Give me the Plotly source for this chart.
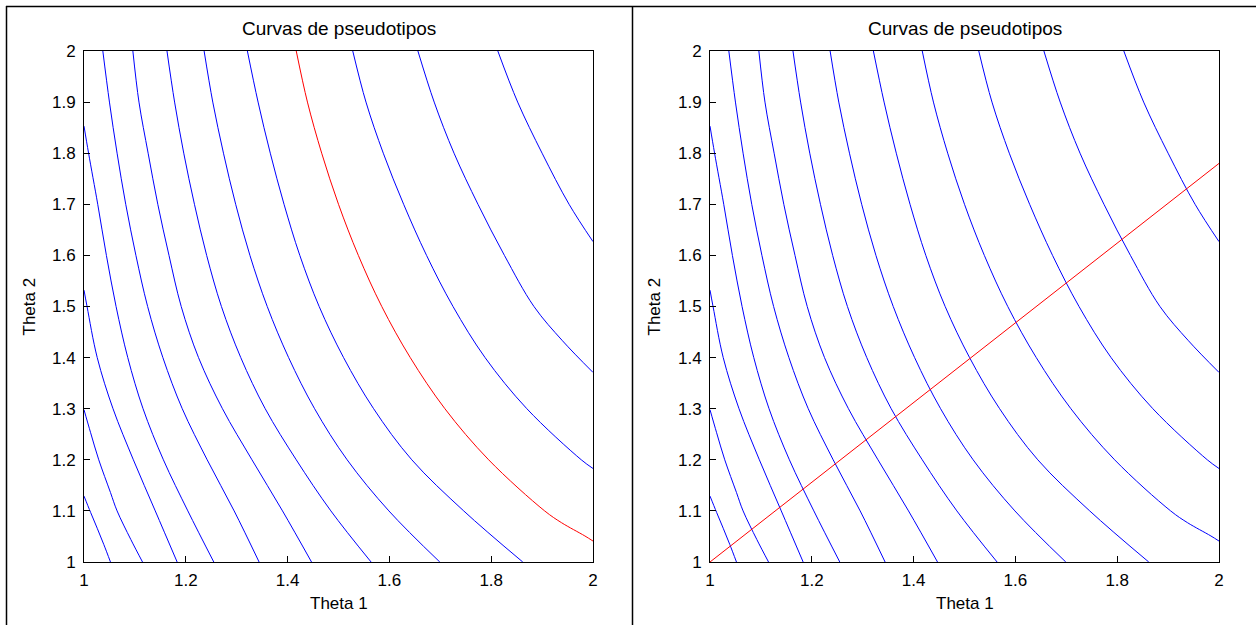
import plotly.graph_objects as go

# ---------------- data ----------------
title_text = "Curvas de pseudotipos"
x_label = "Theta 1"
y_label = "Theta 2"

x_tick_vals = [1.0, 1.2, 1.4, 1.6, 1.8, 2.0]
x_tick_text = ["1", "1.2", "1.4", "1.6", "1.8", "2"]
y_tick_vals = [1.0, 1.1, 1.2, 1.3, 1.4, 1.5, 1.6, 1.7, 1.8, 1.9, 2.0]
y_tick_text = ["1", "1.1", "1.2", "1.3", "1.4", "1.5", "1.6", "1.7", "1.8", "1.9", "2"]

# theta2 levels used for curves that run from the top edge down to the bottom edge
levels_full = [2.0, 1.9, 1.8, 1.7, 1.6, 1.5, 1.4, 1.3, 1.2, 1.1, 1.0]

c1_t1 = [1.000, 1.013, 1.026, 1.039, 1.052]
c1_t2 = [1.129, 1.097, 1.066, 1.034, 1.000]

c2_t1 = [1.000, 1.013, 1.029, 1.052, 1.065, 1.092, 1.115]
c2_t2 = [1.298, 1.253, 1.200, 1.136, 1.100, 1.044, 1.000]

c3_t1 = [1.000, 1.006, 1.026, 1.057, 1.097, 1.140, 1.183]
c3_t2 = [1.532, 1.500, 1.400, 1.300, 1.200, 1.100, 1.000]

c4_t1 = [1.000, 1.009, 1.027, 1.044, 1.063, 1.086, 1.116, 1.156, 1.204, 1.255]
c4_t2 = [1.853, 1.800, 1.700, 1.600, 1.500, 1.400, 1.300, 1.200, 1.100, 1.000]

c5_t1 = [1.037, 1.050, 1.065, 1.082, 1.102, 1.125, 1.155, 1.193, 1.242, 1.295, 1.344]
c5_t2 = levels_full

c6_t1 = [1.096, 1.108, 1.126, 1.145, 1.167, 1.191, 1.225, 1.272, 1.330, 1.390, 1.447]
c6_t2 = levels_full

c7_t1 = [1.163, 1.178, 1.196, 1.217, 1.241, 1.270, 1.308, 1.356, 1.417, 1.485, 1.564]
c7_t2 = levels_full

c8_t1 = [1.236, 1.253, 1.274, 1.298, 1.326, 1.360, 1.402, 1.453, 1.517, 1.599, 1.699]
c8_t2 = levels_full

c9_t1 = [1.321, 1.342, 1.366, 1.393, 1.424, 1.462, 1.510, 1.569, 1.644, 1.746, 1.862]
c9_t2 = levels_full

c10_t1 = [1.417, 1.439, 1.467, 1.500, 1.539, 1.585, 1.641, 1.709, 1.795, 1.905, 1.938, 1.984, 2.000]
c10_t2 = [2.0, 1.9, 1.8, 1.7, 1.6, 1.5, 1.4, 1.3, 1.2, 1.1, 1.077, 1.051, 1.041]

c11_t1 = [1.528, 1.554, 1.588, 1.628, 1.673, 1.725, 1.788, 1.870, 1.977, 2.000]
c11_t2 = [2.0, 1.9, 1.8, 1.7, 1.6, 1.5, 1.4, 1.3, 1.2, 1.183]

c12_t1 = [1.656, 1.688, 1.727, 1.774, 1.826, 1.884, 1.940, 2.000]
c12_t2 = [2.0, 1.9, 1.8, 1.7, 1.6, 1.5, 1.433, 1.371]

c13_t1 = [1.813, 1.852, 1.900, 1.953, 2.000]
c13_t2 = [2.0, 1.9, 1.8, 1.7, 1.627]

# straight red line on the right panel
line_t1 = [1.0, 2.0]
line_t2 = [1.0, 1.78]

# ---------------- figure ----------------
W, H = 1256, 625
BLUE = "#0000ff"
RED = "#ff0000"
FONT = "Liberation Sans"

blue_curves = [
    (c1_t1, c1_t2), (c2_t1, c2_t2), (c3_t1, c3_t2), (c4_t1, c4_t2),
    (c5_t1, c5_t2), (c6_t1, c6_t2), (c7_t1, c7_t2), (c8_t1, c8_t2),
    (c9_t1, c9_t2), (c11_t1, c11_t2), (c12_t1, c12_t2), (c13_t1, c13_t2),
]

fig = go.Figure()

def add_line(xs, ys, color, xa, ya):
    fig.add_trace(go.Scatter(
        x=xs, y=ys, mode="lines", xaxis=xa, yaxis=ya,
        line=dict(color=color, width=1, shape="spline", smoothing=1.0),
        hoverinfo="skip", showlegend=False,
    ))

# left panel
for xs, ys in blue_curves:
    add_line(xs, ys, BLUE, "x", "y")
add_line(c10_t1, c10_t2, RED, "x", "y")

# right panel
for xs, ys in blue_curves:
    add_line(xs, ys, BLUE, "x2", "y2")
add_line(c10_t1, c10_t2, BLUE, "x2", "y2")
fig.add_trace(go.Scatter(
    x=line_t1, y=line_t2, mode="lines", xaxis="x2", yaxis="y2",
    line=dict(color=RED, width=1), hoverinfo="skip", showlegend=False,
))

ydom = [(H - 562) / H, (H - 51) / H]
common = dict(
    range=[1, 2], showgrid=False, zeroline=False, showline=True,
    linecolor="black", linewidth=1, mirror=True, automargin=False,
    ticks="inside", ticklen=6, tickwidth=1, tickcolor="black",
    tickfont=dict(family=FONT, size=17, color="black"),
)

fig.update_layout(
    template="none",
    width=W, height=H, autosize=False,
    margin=dict(l=0, r=0, t=0, b=0, pad=0, autoexpand=False),
    paper_bgcolor="white", plot_bgcolor="white",
    showlegend=False,
    xaxis=dict(domain=[84 / W, 593 / W], anchor="y",
               tickvals=x_tick_vals, ticktext=x_tick_text,
               ticklabelstandoff=3, **common),
    yaxis=dict(domain=ydom, anchor="x",
               tickvals=y_tick_vals, ticktext=y_tick_text,
               ticklabelstandoff=4, **common),
    xaxis2=dict(domain=[710 / W, 1219 / W], anchor="y2",
                tickvals=x_tick_vals, ticktext=x_tick_text,
                ticklabelstandoff=3, **common),
    yaxis2=dict(domain=ydom, anchor="x2",
                tickvals=y_tick_vals, ticktext=y_tick_text,
                ticklabelstandoff=4, **common),
)

ann_font = dict(family=FONT, size=17, color="black")
annotations = []
for cx, ly in [((84 + 593) / 2, 29), ((710 + 1219) / 2, 29)]:
    annotations.append(dict(x=cx / W, y=1 - ly / H, xref="paper", yref="paper",
                            text=title_text, showarrow=False,
                            font=dict(family=FONT, size=19, color="black"),
                            xanchor="center", yanchor="middle"))
for cx in [(84 + 593) / 2, (710 + 1219) / 2]:
    annotations.append(dict(x=cx / W, y=1 - 603 / H, xref="paper", yref="paper",
                            text=x_label, showarrow=False, font=ann_font,
                            xanchor="center", yanchor="middle"))
for cx in [29, 654]:
    annotations.append(dict(x=cx / W, y=1 - 306.5 / H, xref="paper", yref="paper",
                            text=y_label, showarrow=False, font=ann_font,
                            textangle=-90, xanchor="center", yanchor="middle"))
fig.update_layout(annotations=annotations)

# outer frame and separator
frame = dict(color="black", width=1.5)
fig.add_shape(type="line", xref="paper", yref="paper",
              x0=6 / W, x1=1, y0=1 - 6.5 / H, y1=1 - 6.5 / H, line=frame)
fig.add_shape(type="line", xref="paper", yref="paper",
              x0=6.5 / W, x1=6.5 / W, y0=0, y1=1 - 6 / H, line=frame)
fig.add_shape(type="line", xref="paper", yref="paper",
              x0=632.5 / W, x1=632.5 / W, y0=0, y1=1 - 6 / H, line=frame)

fig.write_html(
    "out.html",
    config={"displayModeBar": False, "staticPlot": True},
    post_script="document.body.style.margin='0px';document.body.style.padding='0px';",
)
